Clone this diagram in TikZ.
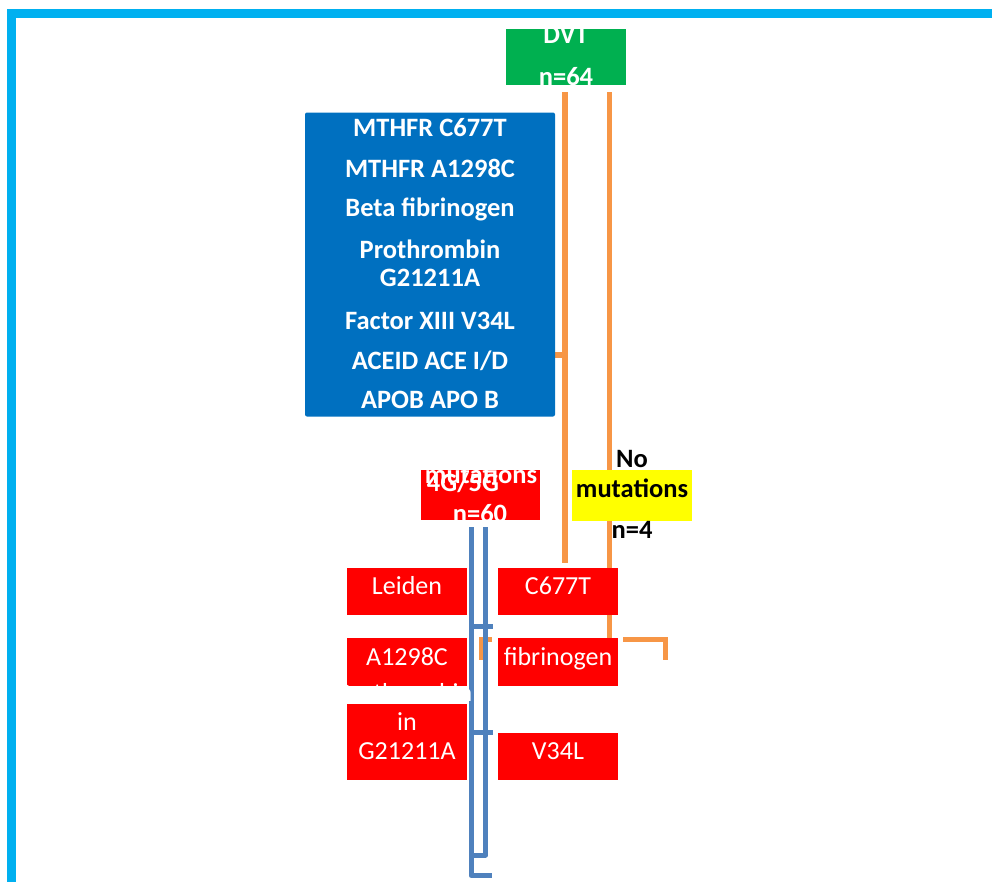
\documentclass[tikz,border=0pt]{standalone}
\usepackage{fontspec}
\setmainfont{Carlito}
\definecolor{frame}{HTML}{00B0F0}
\definecolor{dvtgreen}{HTML}{00B050}
\definecolor{boxblue}{HTML}{0070C0}
\definecolor{boxred}{HTML}{FF0000}
\definecolor{boxyellow}{HTML}{FFFF00}
\definecolor{conorange}{HTML}{F79646}
\definecolor{conblue}{HTML}{4F81BD}
\tikzset{
  box/.style={rectangle, inner sep=0pt, draw=none},
  wtxt/.style={anchor=base, text=white, inner sep=0pt, font=\fontsize{26}{29}\selectfont},
  wbold/.style={anchor=base, text=white, inner sep=0pt, font=\fontsize{26.5}{29}\selectfont\bfseries},
  btxt/.style={anchor=base, text=white, inner sep=0pt, font=\fontsize{26.5}{29}\selectfont\bfseries},
  ktxt/.style={anchor=base, text=black, inner sep=0pt, font=\fontsize{26.5}{29}\selectfont\bfseries},
  orl/.style={draw=conorange, line width=6pt},
  orthin/.style={draw=conorange, line width=5pt},
  bll/.style={draw=conblue, line width=5pt, line join=round},
}
\begin{document}
\begin{tikzpicture}[x=1pt,y=-1pt]
\useasboundingbox (0,0) rectangle (992,881);
% frame
\draw[frame, line width=9pt] (11,890) -- (11,13) -- (1000,13);

% connectors (behind boxes)
\coordinate (o1a) at (564.5,92);
\coordinate (o1b) at (564.5,563);
\coordinate (o2a) at (609.5,92);
\coordinate (o2b) at (609.5,640);
\coordinate (stubL) at (555,354.5);
\coordinate (stubR) at (567,354.5);
\draw[orl] (o1a) -- (o1b);
\draw[orthin] (o2a) -- (o2b);
\draw[orl] (stubL) -- (stubR);

\coordinate (brR1) at (623,639.5);
\coordinate (brR2) at (665.5,639.5);
\coordinate (brR3) at (665.5,660);
\draw[orthin] (brR1) -- (brR2) -- (brR3);
\coordinate (brL1) at (492,639.5);
\coordinate (brL2) at (481,639.5);
\coordinate (brL3) at (481,660);
\draw[orthin] (brL1) -- (brL2) -- (brL3);

\coordinate (bA1) at (471,527);
\coordinate (bA2) at (471,875.5);
\coordinate (bA3) at (492,875.5);
\coordinate (bB1) at (485.5,527);
\coordinate (bB2) at (485.5,855);
\coordinate (bB3) at (471,855);
\draw[bll] (bA1) -- (bA2) -- (bA3);
\draw[bll] (bB1) -- (bB2) -- (bB3);
\coordinate (t1a) at (469,626.5);
\coordinate (t1b) at (493,626.5);
\coordinate (t2a) at (469,732.5);
\coordinate (t2b) at (493,732.5);
\draw[bll] (t1a) -- (t1b);
\draw[bll] (t2a) -- (t2b);

% boxes
\node[box, fill=dvtgreen, minimum width=120pt, minimum height=56pt] (dvt) at (566,57) {};
\node[box, fill=boxblue, rounded corners=2pt, minimum width=250pt, minimum height=304pt] (genes) at (430,264.5) {};
\node[box, fill=boxred, minimum width=119pt, minimum height=50pt] (g45) at (480.5,495) {};
\node[box, fill=boxyellow, minimum width=120pt, minimum height=51pt] (nomut) at (632,495.5) {};
\node[box, fill=boxred, minimum width=120pt, minimum height=47pt] (leiden) at (407,591.5) {};
\node[box, fill=boxred, minimum width=120pt, minimum height=47pt] (c677) at (558,591.5) {};
\node[box, fill=boxred, minimum width=120pt, minimum height=48pt] (a1298) at (407,662) {};
\node[box, fill=boxred, minimum width=120pt, minimum height=48pt] (fib) at (558,662) {};
\node[box, fill=boxred, minimum width=120pt, minimum height=76pt] (g2121) at (407,742) {};
\node[box, fill=boxred, minimum width=120pt, minimum height=47pt] (v34) at (558,756.5) {};

% texts
\node[wbold] (dvtA) at (566,43) {DVT};
\node[wbold] (dvtB) at (566,85) {n=64};

\node[btxt] (gl1) at (430,136) {MTHFR C677T};
\node[btxt] (gl2) at (430,177) {MTHFR A1298C};
\node[btxt] (gl3) at (430,216.5) {Beta fibrinogen};
\node[btxt] (gl4) at (430,258) {Prothrombin};
\node[btxt] (gl5) at (430,286.5) {G21211A};
\node[btxt] (gl6) at (430,329) {Factor XIII V34L};
\node[btxt] (gl7) at (430,369) {ACEID ACE I/D};
\node[btxt] (gl8) at (430,408) {APOB APO B};

\node[wbold] (g45a) at (481,483) {mutations};
\node[wbold] (g45b) at (463,491) {4G/5G};
\node[wbold] (g45c) at (480,522) {n=60};

\node[ktxt] (nm1) at (632,467) {No};
\node[ktxt] (nm2) at (632,497) {mutations};
\node[ktxt] (nm3) at (632,538) {n=4};

\node[wtxt] (tl) at (407,594) {Leiden};
\node[wtxt] (tc) at (558,594) {C677T};
\node[wtxt] (ta) at (407,665) {A1298C};
\node[wtxt] (tf) at (558,665) {fibrinogen};
\node[wtxt] (tp) at (405,701) {Prothrombin};
\node[wtxt] (ti) at (407,730) {in};
\node[wtxt] (tg) at (407,759) {G21211A};
\node[wtxt] (tv) at (558,759) {V34L};
\end{tikzpicture}
\end{document}
